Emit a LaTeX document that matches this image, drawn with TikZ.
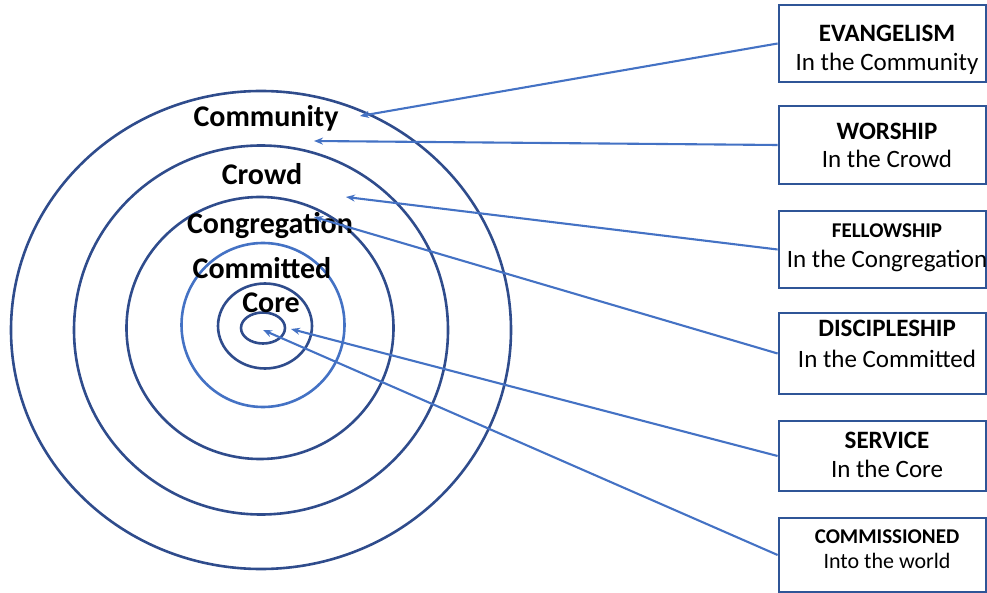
\documentclass[tikz,border=0pt]{standalone}
\usepackage{fontspec}
\setmainfont{Carlito}
\usetikzlibrary{arrows.meta,shapes.geometric}
\definecolor{navy}{HTML}{2F4C8C}
\definecolor{lblue}{HTML}{4472C4}
\definecolor{boxblue}{HTML}{2F5597}
\tikzset{
  ring/.style={ellipse, draw=navy, line width=2.6pt, inner sep=0pt},
  ringlight/.style={ring, draw=lblue},
  lbl/.style={font=\fontsize{30}{32}\selectfont\bfseries, inner sep=0pt},
  infobox/.style={draw=boxblue, line width=2.8pt, minimum width=207pt, inner sep=0pt},
  ttl/.style={anchor=base, inner sep=0pt, font=\fontsize{25}{30}\selectfont\bfseries},
  ttls/.style={ttl, font=\fontsize{21}{25}\selectfont\bfseries},
  sub/.style={anchor=base, inner sep=0pt, font=\fontsize{25}{30}\selectfont},
  subs/.style={sub, font=\fontsize{22}{26}\selectfont},
  link/.style={draw=lblue, line width=2.1pt, -{Stealth[length=9pt,width=7pt]}}
}
\begin{document}
\begin{tikzpicture}[x=1pt,y=-1pt]
\useasboundingbox (0,0) rectangle (987,593);
% rings
\node[ring, minimum width=500pt, minimum height=478pt] (r1) at (261,330) {};
\node[ring, minimum width=374pt, minimum height=369pt] (r2) at (261,330) {};
\node[ring, minimum width=267pt, minimum height=262pt] (r3) at (260,328) {};
\node[ringlight, minimum width=163pt, minimum height=164pt] (r4) at (263,325) {};
\node[ring, minimum width=94pt, minimum height=85pt] (r5) at (265,326) {};
\node[ring, minimum width=44pt, minimum height=31pt] (r6) at (263,328) {};
% labels
\node[lbl] (lcom) at (266,118) {Community};
\node[lbl] (lcrowd) at (262,174) {Crowd};
\node[lbl] (lcong) at (270,225) {Congregation};
\node[lbl] (lcomm) at (262,268) {Committed};
\node[lbl] (lcore) at (271,303) {Core};
% boxes
\node[infobox, minimum height=77pt] (b1) at (882.5,43.5) {};
\node[infobox, minimum height=78pt] (b2) at (882.5,145) {};
\node[infobox, minimum height=77pt] (b3) at (882.5,249.5) {};
\node[infobox, minimum height=81pt] (b4) at (882.5,353.5) {};
\node[infobox, minimum height=70pt] (b5) at (882.5,456) {};
\node[infobox, minimum height=74pt] (b6) at (882.5,555) {};
% box texts
\node[ttl] (b1t) at (887,42) {EVANGELISM};
\node[sub] (b1s) at (887,71) {In the Community};
\node[ttl] (b2t) at (887,140) {WORSHIP};
\node[sub] (b2s) at (887,168) {In the Crowd};
\node[ttls] (b3t) at (887,238) {FELLOWSHIP};
\node[sub] (b3s) at (887,268) {In the Congregation};
\node[ttl] (b4t) at (887,337) {DISCIPLESHIP};
\node[sub] (b4s) at (887,367) {In the Committed};
\node[ttl] (b5t) at (887,448) {SERVICE};
\node[sub] (b5s) at (887,477) {In the Core};
\node[ttls] (b6t) at (887,543) {COMMISSIONED};
\node[subs] (b6s) at (887,568) {Into the world};
% arrow targets
\coordinate (t1) at (360,116);
\coordinate (t2) at (314,141);
\coordinate (t3) at (346,197);
\coordinate (t4) at (314,217);
\coordinate (t5) at (291,329);
\coordinate (t6) at (263,330);
% connectors
\draw[link] (b1.west) -- (t1);
\draw[link] (b2.west) -- (t2);
\draw[link] (b3.west) -- (t3);
\draw[link] (b4.west) -- (t4);
\draw[link] (b5.west) -- (t5);
\draw[link] (b6.west) -- (t6);
\end{tikzpicture}
\end{document}
